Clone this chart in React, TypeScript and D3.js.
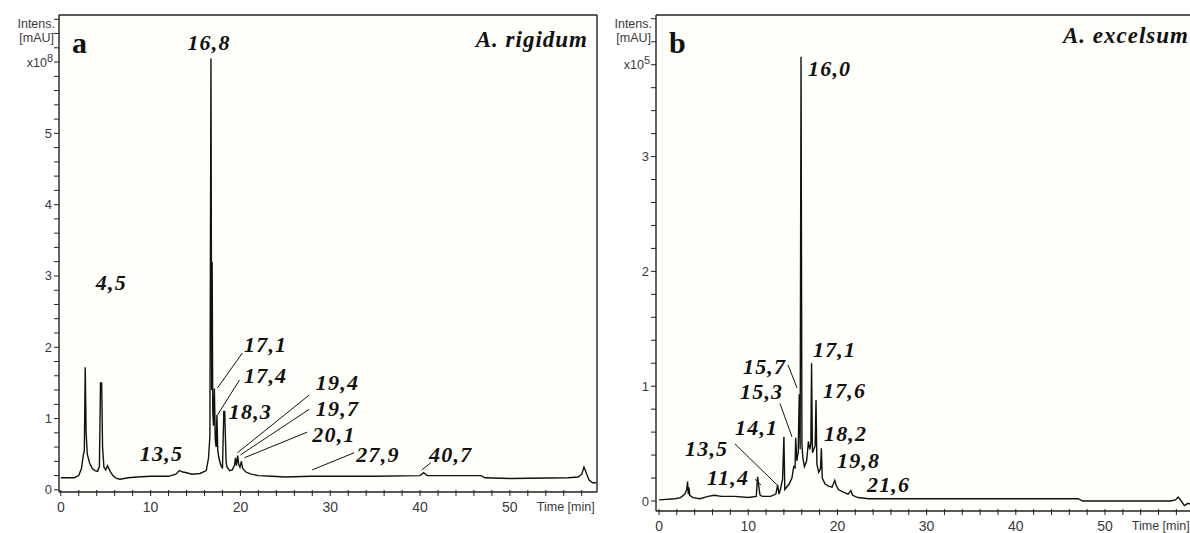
import React from "react";
import * as d3 from "d3";

// ---------- data: panel a (A. rigidum), intensity x10^8 mAU ----------
const timeA = [
  0, 1.5, 2.0, 2.3, 2.5, 2.62, 2.72, 2.82, 2.95, 3.2, 3.5, 3.8, 4.1, 4.3, 4.42, 4.55, 4.65, 4.8,
  5.0, 5.2, 5.5, 5.8, 6.2, 6.6, 7.5, 8.5, 10, 12, 12.8, 13.2, 13.6, 14.0, 14.6, 15.5, 16.2, 16.45,
  16.6, 16.72, 16.8, 16.85, 16.92, 17.0, 17.1, 17.2, 17.3, 17.38, 17.48, 17.6, 17.8, 18.0, 18.15,
  18.25, 18.4, 18.5, 18.8, 19.1, 19.35, 19.45, 19.55, 19.7, 19.8, 19.95, 20.1, 20.25, 20.6, 21.2,
  22.0, 23.5, 25, 27.9, 30, 35, 40, 40.4, 40.8, 44, 46.8, 47.2, 50, 56.5, 57.6, 58.0, 58.25, 58.5,
  58.8, 59.2, 59.6,
];
const intensA = [
  0.17, 0.17, 0.2, 0.3, 0.48, 0.55, 1.72, 0.8, 0.5, 0.38, 0.3, 0.27, 0.26, 0.33, 1.5, 1.5, 0.6, 0.32,
  0.28, 0.34, 0.26, 0.2, 0.16, 0.15, 0.17, 0.18, 0.19, 0.19, 0.22, 0.27, 0.25, 0.24, 0.22, 0.23, 0.27, 0.45,
  0.75, 6.05, 1.4, 3.2, 1.1, 0.9, 1.42, 0.7, 0.6, 1.05, 0.55, 0.45, 0.35, 0.3, 1.1,
  1.1, 0.4, 0.32, 0.27, 0.28, 0.35, 0.45, 0.34, 0.48, 0.36, 0.32, 0.4, 0.3, 0.25, 0.22,
  0.2, 0.19, 0.18, 0.19, 0.19, 0.19, 0.2, 0.24, 0.2, 0.2, 0.2, 0.17, 0.16, 0.17, 0.18, 0.22, 0.32, 0.24,
  0.14, 0.1, 0.1,
];

// ---------- data: panel b (A. excelsum), intensity x10^5 mAU ----------
const timeB = [
  0, 1.8, 2.4, 2.9, 3.1, 3.2, 3.28, 3.35, 3.45, 3.8, 4.6, 5.5, 6.2, 7.0, 8.5, 10.0, 10.9, 11.05,
  11.3, 11.35, 11.6, 12.5, 13.1, 13.3, 13.45, 13.6, 13.85, 14.0, 14.1, 14.3, 14.6, 14.9, 15.1, 15.25,
  15.32, 15.45, 15.6, 15.72, 15.82, 15.92, 16.02, 16.12, 16.3, 16.55, 16.75, 16.9, 17.02, 17.1,
  17.2, 17.35, 17.5, 17.6, 17.7, 17.9, 18.1, 18.2, 18.3, 18.6, 19.0, 19.4, 19.7, 19.85, 20.1, 20.6,
  21.2, 21.5, 21.7, 22.3, 23.5, 27, 30, 40, 47, 47.5, 57.3, 57.9, 58.2, 58.55, 58.9, 59.3, 59.7,
];
const intensB = [
  0.01, 0.02, 0.03, 0.06, 0.1, 0.17, 0.06, 0.12, 0.05, 0.03, 0.02, 0.04, 0.05, 0.04, 0.04, 0.03, 0.04, 0.21,
  0.06, 0.05, 0.04, 0.04, 0.06, 0.14, 0.06, 0.1, 0.19, 0.56, 0.1, 0.12, 0.15, 0.2, 0.3, 0.29,
  0.55, 0.35, 0.42, 0.93, 0.45, 3.87, 0.5, 0.38, 0.3, 0.35, 0.52, 0.45, 0.5, 1.2,
  0.42, 0.45, 0.48, 0.88, 0.32, 0.25, 0.28, 0.46, 0.2, 0.15, 0.13, 0.12, 0.18, 0.14, 0.1, 0.08,
  0.06, 0.09, 0.05, 0.03, 0.02, 0.02, 0.02, 0.02, 0.02, 0.0, 0.0, 0.01, 0.035, 0.0, -0.04, -0.02, -0.03,
];

// ---------- ticks ----------
const xTickValues = [0, 10, 20, 30, 40, 50];
const yTickValuesA = [0, 1, 2, 3, 4, 5];
const yTickValuesB = [0, 1, 2, 3];

// ---------- peak labels (retention time text, placed in data units) ----------
const labelTextA = ["16,8", "4,5", "13,5", "17,1", "17,4", "18,3", "19,4", "19,7", "20,1", "27,9", "40,7"];
const labelTimeA = [14.1, 3.9, 8.8, 20.4, 20.4, 18.7, 28.4, 28.4, 28.0, 32.9, 41.0];
const labelIntA = [6.17, 2.8, 0.4, 1.93, 1.5, 0.99, 1.4, 1.04, 0.67, 0.39, 0.39];

const labelTextB = ["16,0", "17,1", "15,7", "15,3", "17,6", "14,1", "18,2", "19,8", "13,5", "11,4", "21,6"];
const labelTimeB = [16.7, 17.26, 9.41, 9.08, 18.38, 8.52, 18.49, 19.95, 2.91, 5.38, 23.31];
const labelIntB = [3.7, 1.25, 1.11, 0.89, 0.9, 0.575, 0.52, 0.29, 0.39, 0.14, 0.08];

// leader lines [t1, v1, t2, v2]
const leadersA = [
  [20.22, 1.92, 17.45, 1.43],
  [19.89, 1.54, 17.45, 1.05],
  [27.66, 1.33, 19.67, 0.52],
  [27.66, 1.13, 20.0, 0.49],
  [27.44, 0.81, 20.44, 0.45],
  [32.65, 0.52, 27.99, 0.28],
  [41.2, 0.38, 40.2, 0.28],
];
const leadersB = [
  [8.52, 0.497, 13.23, 0.14],
  [13.56, 0.85, 14.91, 0.558],
  [14.46, 1.185, 15.47, 0.985],
  [10.76, 0.19, 11.43, 0.14],
];

const W = 1190;
const H = 533;

type PanelProps = {
  times: number[];
  values: number[];
  tDomain: [number, number];
  vDomain: [number, number];
  left: number;
  right: number;
  top: number;
  bottom: number;
  yTicks: number[];
  vMaxTick: number;
  vExpTick: number;
  exponent: string;
  letter: string;
  species: string;
  speciesRight: number;
  speciesBaseline: number;
  labelText: string[];
  labelTime: number[];
  labelInt: number[];
  leaders: number[][];
  xLabelBaseline: number;
  closeRight: boolean;
};

const sans = "'Liberation Sans', Arial, sans-serif";
const serif = "'Liberation Serif', 'Times New Roman', serif";
const tickColor = "#3a3a3a";

function Panel(p: PanelProps) {
  const x = d3.scaleLinear().domain(p.tDomain).range([p.left, p.right]);
  const y = d3.scaleLinear().domain(p.vDomain).range([p.bottom, p.top]);
  const pts: [number, number][] = p.times.map((t, i) => [t, p.values[i]]);
  const line = d3
    .line<[number, number]>()
    .x((d) => x(d[0]))
    .y((d) => y(d[1]));
  const minorY = d3.range(0, p.vMaxTick + 0.001, 0.2);
  const minorX = d3.range(0, 59, 2);
  const frameRight = Math.min(p.right, W + 5);
  const clipId = "clip-" + p.letter;
  return (
    <g>
      <defs>
        <clipPath id={clipId}>
          <rect x={p.left} y={p.top} width={frameRight - p.left} height={p.bottom - p.top} />
        </clipPath>
      </defs>
      <rect x={p.left} y={p.top} width={frameRight - p.left} height={p.bottom - p.top} fill="#fffffa" />
      <path d={line(pts) || ""} fill="none" stroke="#111" strokeWidth={1.4} clipPath={`url(#${clipId})`} />
      {/* frame */}
      <line x1={p.left} x2={frameRight} y1={p.top} y2={p.top} stroke="#222" strokeWidth={1.6} />
      {p.closeRight && (
        <line x1={p.right} x2={p.right} y1={p.top} y2={p.bottom} stroke="#222" strokeWidth={1.4} />
      )}
      <line x1={p.left} x2={p.left} y1={p.top} y2={p.bottom} stroke="#222" strokeWidth={1.4} />
      <line x1={p.left} x2={frameRight} y1={p.bottom} y2={p.bottom} stroke="#222" strokeWidth={1.4} />
      {/* y ticks */}
      {minorY.map((v) => (
        <line key={"ym" + v} x1={p.left - 5} x2={p.left} y1={y(v)} y2={y(v)} stroke="#222" strokeWidth={1} />
      ))}
      {p.yTicks.map((v) => (
        <text key={"yl" + v} x={p.left - 7} y={y(v) + 4.5} textAnchor="end" fontFamily={sans} fontSize={13} fill={tickColor}>
          {v}
        </text>
      ))}
      <text x={p.left - 4} y={p.top + 13} textAnchor="end" fontFamily={sans} fontSize={12.5} fill={tickColor}>
        Intens.
      </text>
      <text x={p.left - 5} y={p.top + 27} textAnchor="end" fontFamily={sans} fontSize={12.5} fill={tickColor}>
        [mAU]
      </text>
      <text x={p.left - 6} y={y(p.vExpTick) + 4.5} textAnchor="end" fontFamily={sans} fontSize={12.5} fill={tickColor}>
        x10<tspan dy={-5} fontSize={11}>{p.exponent}</tspan>
      </text>
      {/* x ticks */}
      {minorX.map((t) => (
        <line key={"xm" + t} x1={x(t)} x2={x(t)} y1={p.bottom - 2} y2={p.bottom + 4} stroke="#222" strokeWidth={1} />
      ))}
      {xTickValues.map((t) => (
        <text key={"xl" + t} x={x(t)} y={p.xLabelBaseline} textAnchor="middle" fontFamily={sans} fontSize={14} fill={tickColor}>
          {t}
        </text>
      ))}
      <text x={x(53.0)} y={p.xLabelBaseline - 1} fontFamily={sans} fontSize={12.5} fill={tickColor}>
        Time [min]
      </text>
      {/* panel letter and species */}
      <text x={p.left + 13} y={p.top + 38} fontFamily={serif} fontWeight="bold" fontSize={30} fill="#111">
        {p.letter}
      </text>
      <text x={p.speciesRight} y={p.speciesBaseline} textAnchor="end" fontFamily={serif} fontWeight="bold" fontStyle="italic" fontSize={23} letterSpacing={1} fill="#111">
        {p.species}
      </text>
      {/* leaders */}
      {p.leaders.map((l, i) => (
        <line key={"ld" + i} x1={x(l[0])} y1={y(l[1])} x2={x(l[2])} y2={y(l[3])} stroke="#111" strokeWidth={1} />
      ))}
      {/* peak labels */}
      {p.labelText.map((s, i) => (
        <text key={"pl" + i} x={x(p.labelTime[i])} y={y(p.labelInt[i])} fontFamily={serif} fontWeight="bold" fontStyle="italic" fontSize={22} letterSpacing={1.2} fill="#111">
          {s}
        </text>
      ))}
    </g>
  );
}

export default function App() {
  return (
    <svg width={W} height={H} style={{ position: "absolute", left: 0, top: 0, background: "#fff" }}>
      <rect x={0} y={0} width={W} height={H} fill="#fff" />
      <Panel
        times={timeA}
        values={intensA}
        tDomain={[-0.2, 59.7]}
        vDomain={[-0.03, 6.66]}
        left={59}
        right={597}
        top={15}
        bottom={492}
        yTicks={yTickValuesA}
        vMaxTick={6.6}
        vExpTick={6}
        exponent="8"
        letter="a"
        species="A. rigidum"
        speciesRight={588}
        speciesBaseline={47}
        labelText={labelTextA}
        labelTime={labelTimeA}
        labelInt={labelIntA}
        leaders={leadersA}
        xLabelBaseline={512}
        closeRight={true}
      />
      <Panel
        times={timeB}
        values={intensB}
        tDomain={[-0.34, 60.65]}
        vDomain={[-0.087, 4.233]}
        left={656}
        right={1200}
        top={15}
        bottom={511}
        yTicks={yTickValuesB}
        vMaxTick={4.2}
        vExpTick={3.8}
        exponent="5"
        letter="b"
        species="A. excelsum"
        speciesRight={1189}
        speciesBaseline={43}
        labelText={labelTextB}
        labelTime={labelTimeB}
        labelInt={labelIntB}
        leaders={leadersB}
        xLabelBaseline={531}
        closeRight={false}
      />
    </svg>
  );
}
